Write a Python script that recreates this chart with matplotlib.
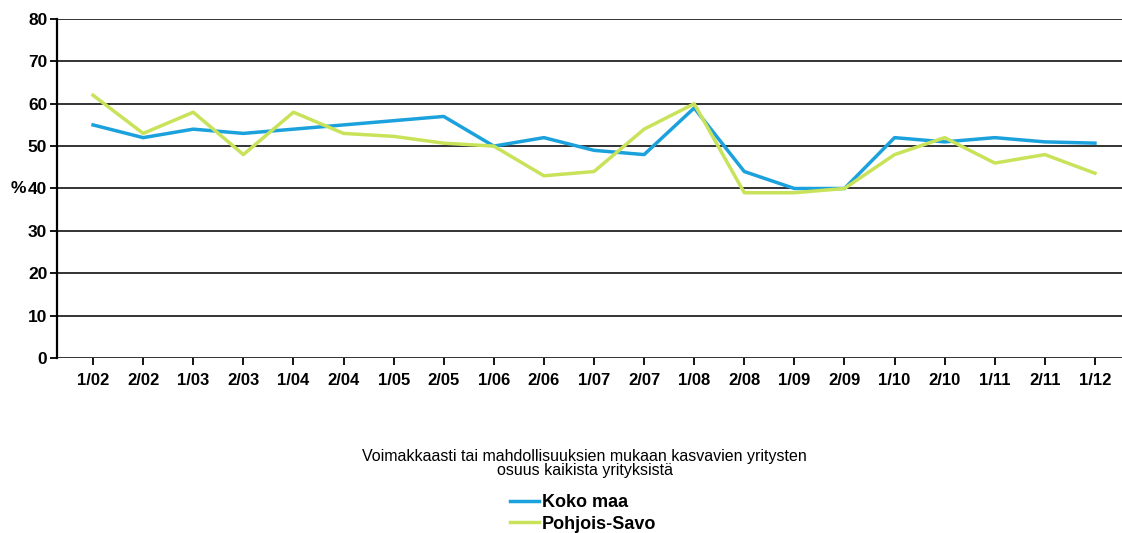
import matplotlib.pyplot as plt

plt.rcParams['font.family'] = ['Liberation Sans', 'DejaVu Sans']

# data
periods = ['1/02', '2/02', '1/03', '2/03', '1/04', '2/04', '1/05', '2/05', '1/06', '2/06', '1/07',
           '2/07', '1/08', '2/08', '1/09', '2/09', '1/10', '2/10', '1/11', '2/11', '1/12']
koko_maa = [55, 52, 54, 53, 54, 55, 56, 57, 50, 52, 49, 48, 59, 44, 40, 40, 52, 51, 52, 51, 50.7]
pohjois_savo = [62, 53, 58, 48, 58, 53, 52.3, 50.7, 50, 43, 44, 54, 60, 39, 39, 40, 48, 52, 46, 48, 43.6]
y_ticks = [0, 10, 20, 30, 40, 50, 60, 70, 80]

fig = plt.figure(figsize=(11.22, 5.33), dpi=100)
ax = fig.add_axes([0.0508, 0.3283, 0.9492, 0.6361])

x = list(range(len(periods)))
ax.plot(x, koko_maa, color='#1ba1dc', linewidth=2.5, label='Koko maa', zorder=3)
ax.plot(x, pohjois_savo, color='#c8e35a', linewidth=2.5, label='Pohjois-Savo', zorder=3)

ax.set_ylim(0, 80)
ax.set_xlim(-0.72, 20.54)
ax.set_yticks(y_ticks)
ax.set_xticks(x)
ax.set_xticklabels(periods)
ax.yaxis.grid(True, color='#333333', linewidth=1.4)
ax.set_axisbelow(True)
for s in ['top', 'right', 'bottom']:
    ax.spines[s].set_visible(False)
ax.spines['left'].set_linewidth(1.6)
ax.tick_params(axis='both', direction='out', length=5, width=1.3, pad=2)
ax.tick_params(axis='y', labelsize=12.5)
ax.tick_params(axis='x', labelsize=12, pad=6)
for lab in ax.get_xticklabels() + ax.get_yticklabels():
    lab.set_fontweight('bold')
# percent sign next to the 40 label
ax.text(-0.029, 40, '%', transform=ax.get_yaxis_transform(), ha='right', va='center',
        fontsize=12.5, fontweight='bold')

fig.text(0.521, 0.131, 'Voimakkaasti tai mahdollisuuksien mukaan kasvavien yritysten\nosuus kaikista yrityksistä',
         ha='center', va='center', fontsize=11.5, linespacing=0.93)
leg = fig.legend(loc='upper center', bbox_to_anchor=(0.52, 0.09), frameon=False,
                 prop={'weight': 'bold', 'size': 13}, handlelength=1.6, handletextpad=0.17,
                 labelspacing=0.25, borderpad=0)

fig.savefig('out.png', dpi=100)
